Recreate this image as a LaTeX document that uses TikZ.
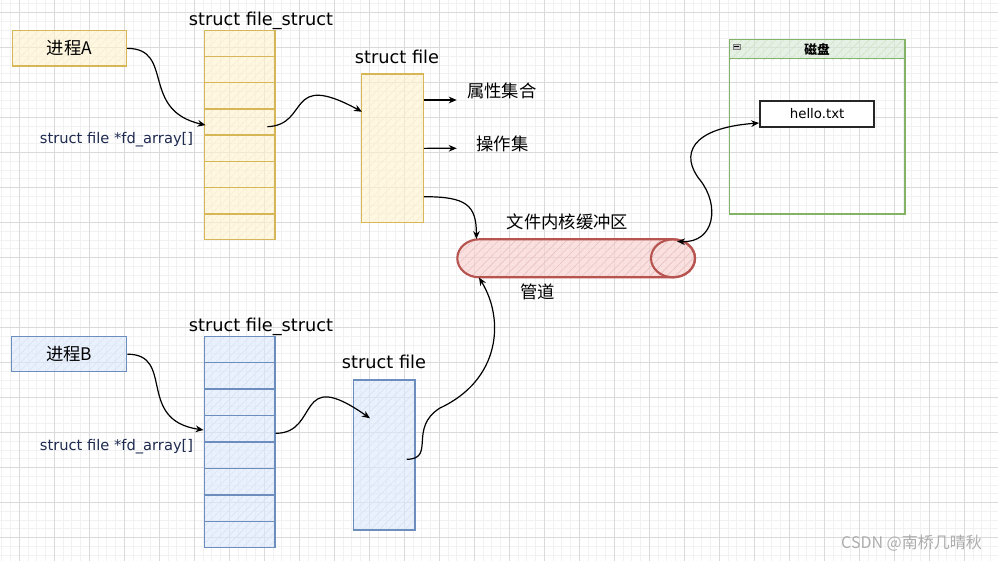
\documentclass[tikz,border=0pt]{standalone}
\usepackage{fontspec}
\setmainfont{DejaVu Sans}
\newfontfamily\cjk{Noto Sans CJK SC}
\usetikzlibrary{calc,arrows.meta,patterns.meta}
\definecolor{ylF}{HTML}{FFF2CC}
\definecolor{ylS}{HTML}{D6B656}
\definecolor{blF}{HTML}{DAE8FC}
\definecolor{blS}{HTML}{6C8EBF}
\definecolor{rdF}{HTML}{F8CECC}
\definecolor{rdS}{HTML}{B85450}
\definecolor{grF}{HTML}{D5E8D4}
\definecolor{grS}{HTML}{82B366}
\definecolor{gmaj}{HTML}{DADADA}
\definecolor{gmin}{HTML}{F1F1F1}
\definecolor{navy}{HTML}{1E2A50}
\begin{document}
\begin{tikzpicture}[x=0.75pt,y=-0.75pt,
  sketchfill/.style n args={2}{preaction={fill=#1,fill opacity=0.6},
      pattern={Lines[angle=45,distance=4.5pt,line width=0.45pt]},pattern color=#2},
  yelbox/.style={draw=ylS,line width=1.1pt,sketchfill={ylF}{ylS!25}},
  blubox/.style={draw=blS,line width=1.1pt,sketchfill={blF}{blS!25}},
  rowline/.style={line width=1.1pt},
  cjkt/.style={inner sep=0pt,font=\cjk\fontsize{13}{15}\selectfont},
  lab/.style={inner sep=0pt,font=\fontsize{13.3}{15}\selectfont},
  fdlab/.style={inner sep=0pt,text=navy,font=\fontsize{11}{13}\selectfont},
  arr/.style={-{Stealth[length=6pt,width=5pt]},line width=0.9pt,black},
  arrboth/.style={{Stealth[length=6pt,width=5pt]}-{Stealth[length=6pt,width=5pt]},line width=0.9pt,black}]
\useasboundingbox (0,0) rectangle (998,561);
\fill[white] (0,0) rectangle (998,561);
% grid
\foreach \i in {0,...,114}{\pgfmathsetmacro\xx{1.8+8.75*\i}\draw[gmin,line width=0.75pt] (\xx,0) -- (\xx,561);}
\foreach \i in {0,...,63}{\pgfmathsetmacro\yy{3.95+8.75*\i}\draw[gmin,line width=0.75pt] (0,\yy) -- (998,\yy);}
\foreach \i in {0,...,28}{\pgfmathsetmacro\xx{19.3+35*\i}\draw[gmaj,line width=0.75pt] (\xx,0) -- (\xx,561);}
\foreach \i in {0,...,15}{\pgfmathsetmacro\yy{12.7+35*\i}\draw[gmaj,line width=0.75pt] (0,\yy) -- (998,\yy);}

% ---------- top (process A) ----------
\node[yelbox,minimum width=85.8pt,minimum height=26.5pt,font=\cjk\fontsize{13}{15}\selectfont] (procA) at (69.5,48.35) {进程A};
\node[yelbox,minimum width=53pt,minimum height=156.6pt] (colA) at (239.65,135.1) {};
\foreach \k in {1,...,7}{\draw[ylS,rowline] ($(colA.north west)!\k/8!(colA.south west)$) -- ($(colA.north east)!\k/8!(colA.south east)$);}
\node[lab] (fsA) at (261,21) {struct file\_struct};
\node[fdlab] (fdA) at (116.5,140) {struct file *fd\_array[]};
\node[yelbox,minimum width=46.2pt,minimum height=111.5pt] (fileA) at (392.5,148.35) {};
\node[lab] (sfA) at (397,57) {struct file};
\node[cjkt] (attr) at (501.7,91) {属性集合};
\node[cjkt] (ops) at (502.5,144) {操作集};

% ---------- pipe ----------
\path[draw=rdS,line width=1.6pt,sketchfill={rdF}{rdS!35}]
  (479.3,239.3) -- (673,239.3) arc[start angle=-90,end angle=90,x radius=22,y radius=19]
  -- (479.3,277.3) arc[start angle=90,end angle=270,x radius=22,y radius=19] -- cycle;
\draw[rdS,line width=1.6pt] (673,258.3) ellipse [x radius=22,y radius=19];
\node[inner sep=0pt,minimum width=178.3pt,minimum height=28.5pt] (pipe) at (576.15,258.3) {};
\node[cjkt] (buf) at (567.5,221.7) {文件内核缓冲区};
\node[cjkt] (pipelab) at (537.5,292) {管道};

% ---------- disk ----------
\path[sketchfill={grF}{grS!35}] (729.3,39.3) rectangle (905,59.3);
\node[draw=grS,line width=1.1pt,minimum width=131.8pt,minimum height=131pt] (disk) at (817.15,126.65) {};
\draw[grS,line width=1.1pt] ($(disk.north west)+(0,20)$) -- ($(disk.north east)+(0,20)$);
\node[draw=gray,fill=gray!40,line width=0.4pt,minimum width=5pt,minimum height=3.8pt,inner sep=0pt] (minus) at (736.7,46.5) {};
\draw[black,line width=0.6pt] ($(minus.west)+(1.2,0)$) -- ($(minus.east)+(-1.2,0)$);
\node[inner sep=0pt,font=\cjk\bfseries\fontsize{9.5}{11}\selectfont] (diskT) at (817,50) {磁盘};
\node[draw=black!85,fill=white,line width=1.3pt,minimum width=85.7pt,minimum height=20pt,font=\fontsize{10}{12}\selectfont] (hello) at (817.15,114) {hello.txt};

% ---------- bottom (process B) ----------
\node[blubox,minimum width=86.25pt,minimum height=26.25pt,font=\cjk\fontsize{13}{15}\selectfont] (procB) at (69.2,354.2) {进程B};
\node[blubox,minimum width=53pt,minimum height=158pt] (colB) at (239.65,442) {};
\foreach \k in {1,...,7}{\draw[blS,rowline] ($(colB.north west)!\k/8!(colB.south west)$) -- ($(colB.north east)!\k/8!(colB.south east)$);}
\node[lab] (fsB) at (261,327) {struct file\_struct};
\node[fdlab] (fdB) at (116.5,447) {struct file *fd\_array[]};
\node[blubox,minimum width=46.3pt,minimum height=112.5pt] (fileB) at (384.15,455) {};
\node[lab] (sfB) at (384,362) {struct file};

% ---------- connectors ----------
\draw[arr] (procA.east) .. controls +(48,0) and +(-66,-15) .. ($(colA.west)+(2,-10)$);
\draw[arr] ($(colA.east)+(-8.3,-8.4)$) .. controls +(43,-1.7) and +(-76.7,-41.7) .. ($(fileA.west)+(1,-36.6)$);
\draw[arr] ($(fileA.east)+(0,-48.35)$) -- ($(attr.west)+(-10,9)$);
\draw[arr] (fileA.east) -- ($(ops.west)+(-19.5,4.3)$);
\draw[arr] ($(fileA.east)+(0,48.35)$) .. controls +(42,0) and +(0,-34.3) .. ($(pipe.north west)+(19.4,0)$);
\draw[arr] (procB.east) .. controls +(48,0) and +(-68,-10) .. ($(colB.west)+(0,-12)$);
\draw[arr] ($(colB.east)+(0,-8.7)$) .. controls +(45,0) and +(-75.7,-53.3) .. ($(fileB.west)+(17.4,-36.7)$);
\draw[arr] ($(fileB.east)+(-9,4.3)$) .. controls (436,459) and (408,428) .. (440,408) .. controls (500,380) and (505,320) .. ($(pipe.south west)+(22,0)$);
\draw[arrboth] ($(pipe.north east)+(-18.3,2.4)$) .. controls (715,243) and (720,205) .. (700,180) .. controls (680,155) and (690,128) .. ($(hello.west)+(0,9)$);

% watermark
\node[inner sep=0pt,text=black!32,font=\cjk\fontsize{12}{14}\selectfont] (wm) at (911.5,543) {CSDN @南桥几晴秋};
\end{tikzpicture}
\end{document}
